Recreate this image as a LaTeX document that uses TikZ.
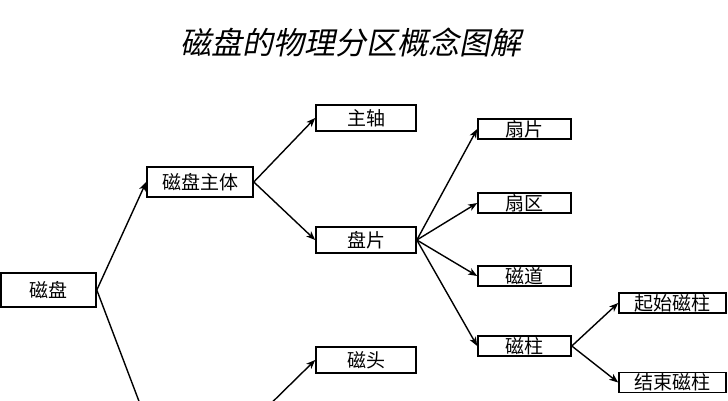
\documentclass[tikz,border=0pt]{standalone}
\usepackage{fontspec}
\usetikzlibrary{arrows.meta}
\setmainfont{Noto Sans CJK SC}
\newfontfamily\titlefont[FakeSlant=0.2]{Noto Sans CJK SC}

\begin{document}
\begin{tikzpicture}[x=1pt, y=-1pt, >={Stealth[length=9pt, width=7pt, inset=2.5pt]},
    box/.style={draw, line width=1.6pt, inner sep=0pt, font=\fontsize{19}{19}\selectfont},
    big/.style={box, minimum width=100pt, minimum height=26pt},
    small/.style={box, minimum width=93pt, minimum height=20pt},
    link/.style={->, line width=1.4pt}]
    \useasboundingbox (0,0) rectangle (728,400) ;
    \node (title) at (351,42) {\titlefont\fontsize{31}{31}\selectfont 磁盘的物理分区概念图解} ;
    \node[box, minimum width=95pt, minimum height=34pt] (cipan) at (48.5,290) {磁盘} ;
    \node[box, minimum width=106pt, minimum height=30pt] (zhuti) at (200,182) {磁盘主体} ;
    \node[big] (zhuzhou) at (366,118) {主轴} ;
    \node[big] (panpian) at (366,240) {盘片} ;
    \node[big] (citou) at (366,360) {磁头} ;
    \node[small] (shanpian) at (524.5,129) {扇片} ;
    \node[small] (shanqu) at (524.5,203) {扇区} ;
    \node[small] (cidao) at (524.5,276) {磁道} ;
    \node[small] (cizhu) at (524.5,346) {磁柱} ;
    \node[small, minimum width=107pt] (qishi) at (672.5,303) {起始磁柱} ;
    \node[small, minimum width=107pt] (jieshu) at (672.5,382.5) {结束磁柱} ;
    % ends that leave the picture at the bottom
    \coordinate (down) at (148,425) ;
    \coordinate (up) at (249,425) ;

    \draw[link] (cipan.east) -- (zhuti.west) ;
    \draw[line width=1.4pt] (cipan.east) -- (down) ;
    \draw[link] (zhuti.east) -- (zhuzhou.west) ;
    \draw[link] (zhuti.east) -- (panpian.west) ;
    \draw[link] (up) -- (citou.west) ;
    \draw[link] (panpian.east) -- (shanpian.west) ;
    \draw[link] (panpian.east) -- (shanqu.west) ;
    \draw[link] (panpian.east) -- (cidao.west) ;
    \draw[link] (panpian.east) -- (cizhu.west) ;
    \draw[link] (cizhu.east) -- (qishi.west) ;
    \draw[link] (cizhu.east) -- (jieshu.west) ;
\end{tikzpicture}
\end{document}
